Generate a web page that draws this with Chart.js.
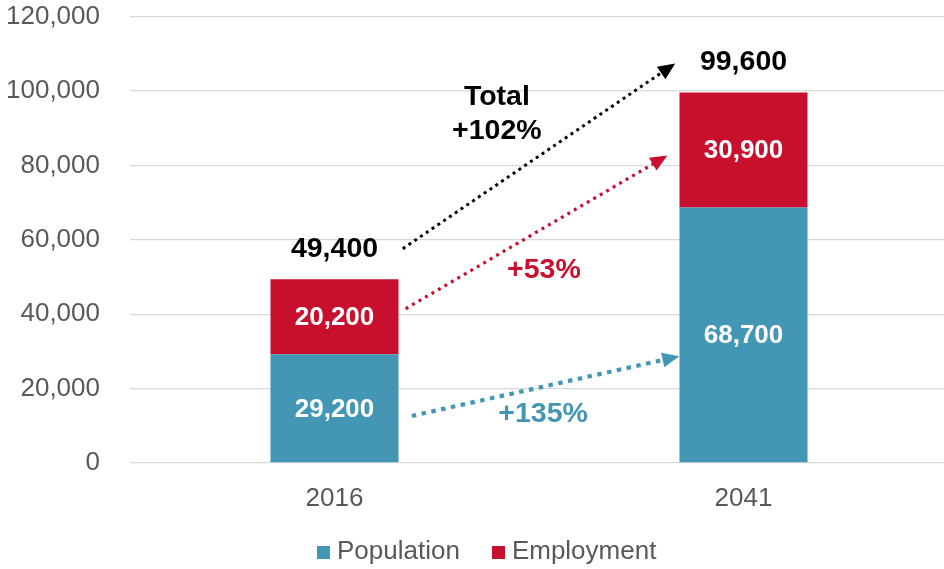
<!DOCTYPE html>
<html><head><meta charset="utf-8">
<script src="https://cdn.jsdelivr.net/npm/chart.js@4/dist/chart.umd.min.js"></script>
<style>html,body{margin:0;padding:0;overflow:hidden;background:#fff}#wrap{width:948px;height:569px;position:relative}</style>
</head><body><div id="wrap"><canvas id="c"></canvas></div>
<script>
const categories = ['2016', '2041'];
const population = [29200, 68700];
const employment = [20200, 30900];
const totals = [49400, 99600];
const yTickValues = [0, 20000, 40000, 60000, 80000, 100000, 120000];

// growth arrows, in category units (x) and data values (y)
const arrowFromX = [0.167, 0.174, 0.189];
const arrowFromY = [57600, 41450, 12650];
const arrowToX = [0.833, 0.814, 0.843];
const arrowToY = [107400, 82640, 28670];

// growth labels
const noteTexts = ['Total', '+102%', '+53%', '+135%'];
const noteX = [0.397, 0.397, 0.512, 0.51];
const noteY = [98250, 89100, 51950, 13200];

const TEAL = '#4397B5', RED = '#C8102E', GREY = '#595959';
const FONT = '"Liberation Sans", Arial, sans-serif';
const arrowColors = [ '#000000', RED, TEAL ];
const arrowWidths = [3, 3.2, 4.2];
const arrowDash = [[3, 4], [3, 4.5], [4.5, 5.5]];
const noteColors = ['#000000', '#000000', RED, TEAL];

function swatch(color) {
  const c = document.createElement('canvas');
  c.width = 13; c.height = 13;
  const g = c.getContext('2d');
  g.fillStyle = color; g.fillRect(0, 0, 13, 13);
  return c;
}

const overlay = {
  id: 'overlay',
  afterLayout(chart) {
    const lg = chart.legend;
    const w = lg.right - lg.left;
    lg.left = 285; lg.right = lg.left + w;
    lg.top = 501; lg.bottom = 569;
  },
  afterDatasetsDraw(chart) {
    const ctx = chart.ctx, xs = chart.scales.x, ys = chart.scales.y;
    ctx.save();
    ctx.textAlign = 'center'; ctx.textBaseline = 'middle';
    ctx.fillStyle = '#ffffff';
    ctx.font = 'bold 26px ' + FONT;
    chart.data.datasets.forEach((ds, di) => {
      chart.getDatasetMeta(di).data.forEach((el, i) => {
        const v = ds.data[i];
        ctx.fillText(v.toLocaleString('en-US'), el.x, (el.y + el.base) / 2 + 1);
      });
    });
    ctx.fillStyle = '#000000';
    ctx.font = 'bold 28.5px ' + FONT;
    const topMeta = chart.getDatasetMeta(1);
    totals.forEach((t, i) => {
      const el = topMeta.data[i];
      ctx.fillText(t.toLocaleString('en-US'), el.x, ys.getPixelForValue(t) - 30);
    });
    for (let k = 0; k < arrowFromX.length; k++) {
      const x0 = xs.getPixelForValue(arrowFromX[k]), y0 = ys.getPixelForValue(arrowFromY[k]);
      const x1 = xs.getPixelForValue(arrowToX[k]), y1 = ys.getPixelForValue(arrowToY[k]);
      const dx = x1 - x0, dy = y1 - y0, L = Math.hypot(dx, dy);
      const ux = dx / L, uy = dy / L, px = -uy, py = ux;
      const head = 17, half = 7.5;
      const bx = x1 - ux * head, by = y1 - uy * head;
      ctx.strokeStyle = arrowColors[k]; ctx.fillStyle = arrowColors[k];
      ctx.lineWidth = arrowWidths[k]; ctx.lineCap = 'butt';
      ctx.setLineDash(arrowDash[k]);
      ctx.beginPath(); ctx.moveTo(x0, y0); ctx.lineTo(bx + ux * 2, by + uy * 2); ctx.stroke();
      ctx.setLineDash([]);
      ctx.beginPath();
      ctx.moveTo(x1, y1);
      ctx.lineTo(bx + px * half, by + py * half);
      ctx.lineTo(bx - px * half, by - py * half);
      ctx.closePath(); ctx.fill();
    }
    ctx.font = 'bold 28.5px ' + FONT;
    noteTexts.forEach((t, i) => {
      ctx.fillStyle = noteColors[i];
      ctx.fillText(t, xs.getPixelForValue(noteX[i]), ys.getPixelForValue(noteY[i]));
    });
    ctx.restore();
  }
};

new Chart(document.getElementById('c'), {
  type: 'bar',
  data: {
    labels: categories,
    datasets: [
      { label: 'Population', data: population, backgroundColor: TEAL, barPercentage: 0.313, categoryPercentage: 1 },
      { label: 'Employment', data: employment, backgroundColor: RED, barPercentage: 0.313, categoryPercentage: 1 }
    ]
  },
  options: {
    responsive: true, maintainAspectRatio: false, animation: false,
    layout: { padding: 0 },
    scales: {
      x: {
        stacked: true,
        afterFit(s) { s.height = 58; },
        grid: { display: false }, border: { display: false },
        ticks: { color: GREY, font: { family: FONT, size: 26 }, padding: 12 }
      },
      y: {
        stacked: true, min: 0, max: 120000,
        afterBuildTicks(s) { s.ticks = yTickValues.map(v => ({ value: v })); },
        afterFit(s) { s.width = 130; s.paddingTop = 16.5; s.paddingBottom = 0; },
        grid: { color: '#D9D9D9', lineWidth: 1.3, drawTicks: false },
        border: { display: false },
        ticks: { color: GREY, font: { family: FONT, size: 26 }, padding: 30,
          callback: v => Number(v).toLocaleString('en-US') }
      }
    },
    plugins: {
      legend: {
        position: 'bottom', align: 'start', maxHeight: 48,
        labels: {
          color: GREY, font: { family: FONT, size: 26 },
          usePointStyle: true, pointStyleWidth: 1, boxHeight: 13, padding: 38,
          generateLabels(chart) {
            const items = Chart.defaults.plugins.legend.labels.generateLabels(chart);
            items.forEach(it => { it.pointStyle = swatch(chart.data.datasets[it.datasetIndex].backgroundColor); });
            return items;
          }
        }
      },
      tooltip: { enabled: false }
    }
  },
  plugins: [overlay]
});
</script></body></html>
